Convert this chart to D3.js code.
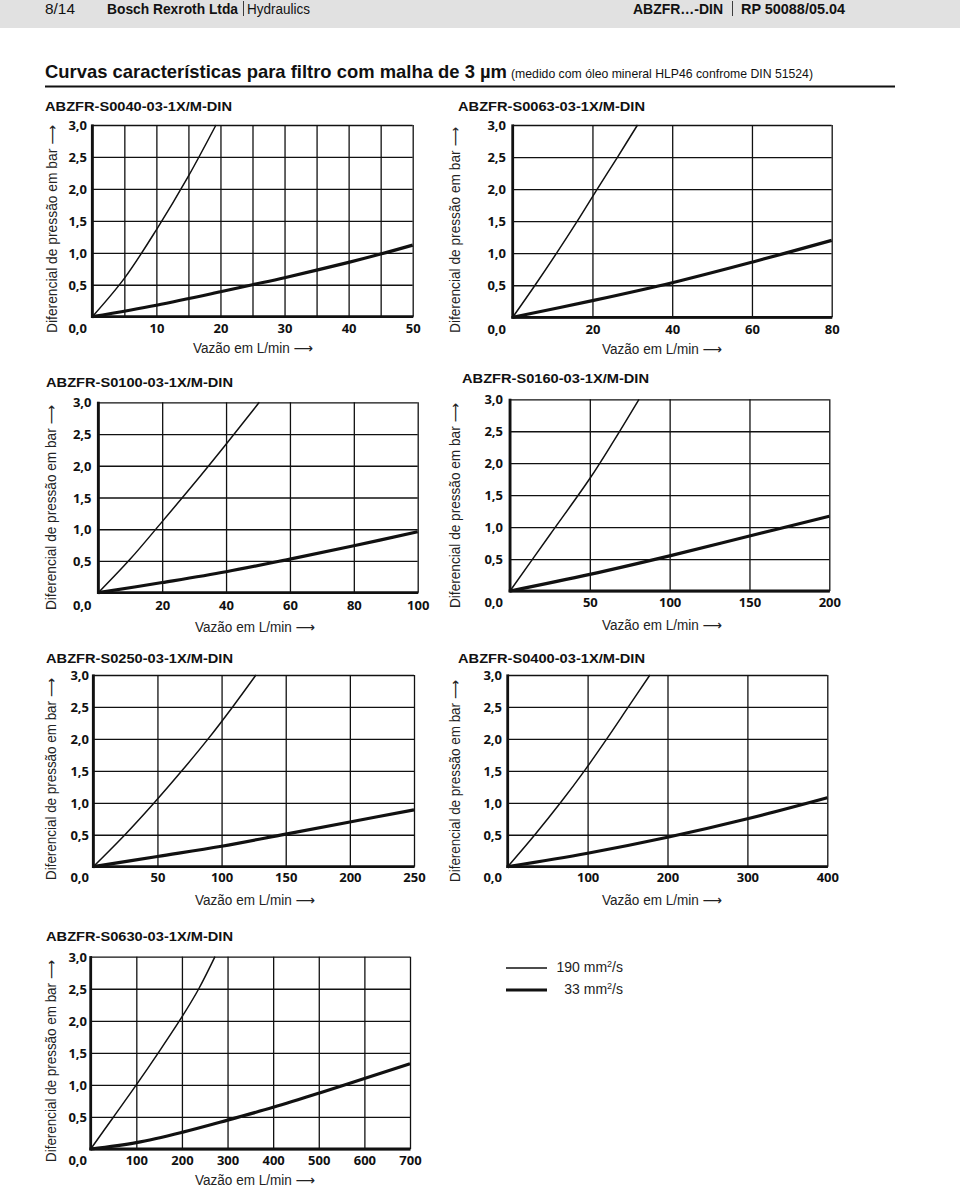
<!DOCTYPE html>
<html><head><meta charset="utf-8">
<script src="https://cdn.jsdelivr.net/npm/d3@7"></script>
<style>
html,body{margin:0;padding:0;background:#fff;}
svg{display:block;}
</style></head>
<body>
<svg id="c" width="960" height="1189"></svg>
<script>
// ---------------- DATA ----------------
const chartTitles = ["ABZFR-S0040-03-1X/M-DIN","ABZFR-S0063-03-1X/M-DIN","ABZFR-S0100-03-1X/M-DIN","ABZFR-S0160-03-1X/M-DIN","ABZFR-S0250-03-1X/M-DIN","ABZFR-S0400-03-1X/M-DIN","ABZFR-S0630-03-1X/M-DIN"];
const flowMax   = [50, 80, 100, 200, 250, 400, 700];
const flowGrid  = [5, 20, 20, 50, 50, 100, 100];
const flowTickLabels = [
  [10,20,30,40,50],
  [20,40,60,80],
  [20,40,60,80,100],
  [50,100,150,200],
  [50,100,150,200,250],
  [100,200,300,400],
  [100,200,300,400,500,600,700]
];
const pressureTicks = [0.5,1.0,1.5,2.0,2.5,3.0];
const pressureTickLabels = ["0,5","1,0","1,5","2,0","2,5","3,0"];
const zeroLabel = "0,0";
const yAxisTitle = "Diferencial de pressão em bar ⟶";
const xAxisTitle = "Vazão em L/min ⟶";
const legendLabels = ["190 mm", "33 mm"];

// 190 mm²/s (thin) curves
const thinFlow_S0040 = [0, 5, 10, 15, 19.3];
const thinDp_S0040   = [0, 0.6, 1.36, 2.2, 3.0];
const thinFlow_S0063 = [0, 5.6, 11, 16.2, 21.2, 26.3, 31.3];
const thinDp_S0063   = [0, 0.5, 1.0, 1.5, 2.0, 2.5, 3.0];
const thinFlow_S0100 = [0, 10, 20, 30, 40, 50.4];
const thinDp_S0100   = [0, 0.53, 1.12, 1.72, 2.34, 3.0];
const thinFlow_S0160 = [0, 25, 50, 65, 80.8];
const thinDp_S0160   = [0, 0.88, 1.76, 2.35, 3.0];
const thinFlow_S0250 = [0, 24.7, 47.5, 69, 89.5, 108.6, 126.8];
const thinDp_S0250   = [0, 0.5, 1.0, 1.5, 2.0, 2.5, 3.0];
const thinFlow_S0400 = [0, 34, 66, 96, 124, 151, 178];
const thinDp_S0400   = [0, 0.5, 1.0, 1.5, 2.0, 2.5, 3.0];
const thinFlow_S0630 = [0, 50, 100, 150, 200, 237, 272.5];
const thinDp_S0630   = [0, 0.5, 1.0, 1.52, 2.06, 2.5, 3.0];

// 33 mm²/s (thick) curves
const thickFlow_S0040 = [0, 10, 20, 25, 30, 40, 45, 50];
const thickDp_S0040   = [0, 0.18, 0.39, 0.5, 0.61, 0.85, 0.98, 1.12];
const thickFlow_S0063 = [0, 20, 40, 60, 80];
const thickDp_S0063   = [0, 0.26, 0.54, 0.86, 1.2];
const thickFlow_S0100 = [0, 20, 40, 60, 80, 100];
const thickDp_S0100   = [0, 0.16, 0.33, 0.53, 0.74, 0.96];
const thickFlow_S0160 = [0, 50, 100, 150, 200];
const thickDp_S0160   = [0, 0.26, 0.55, 0.86, 1.17];
const thickFlow_S0250 = [0, 50, 100, 150, 200, 250];
const thickDp_S0250   = [0, 0.16, 0.32, 0.51, 0.70, 0.89];
const thickFlow_S0400 = [0, 100, 200, 300, 400];
const thickDp_S0400   = [0, 0.21, 0.46, 0.75, 1.08];
const thickFlow_S0630 = [0, 100, 200, 300, 400, 500, 600, 700];
const thickDp_S0630   = [0, 0.10, 0.26, 0.45, 0.65, 0.87, 1.10, 1.33];

const thinSeries  = [[thinFlow_S0040,thinDp_S0040],[thinFlow_S0063,thinDp_S0063],[thinFlow_S0100,thinDp_S0100],[thinFlow_S0160,thinDp_S0160],[thinFlow_S0250,thinDp_S0250],[thinFlow_S0400,thinDp_S0400],[thinFlow_S0630,thinDp_S0630]];
const thickSeries = [[thickFlow_S0040,thickDp_S0040],[thickFlow_S0063,thickDp_S0063],[thickFlow_S0100,thickDp_S0100],[thickFlow_S0160,thickDp_S0160],[thickFlow_S0250,thickDp_S0250],[thickFlow_S0400,thickDp_S0400],[thickFlow_S0630,thickDp_S0630]];

// ---------------- LAYOUT ----------------
const layout = [
  {l:92.3, r:412.7, t:125,   b:316.7, tx:45,  ty:111, ylx:57,  ylt:125, ylb:333,  xlx:193, xly:353, ytr:87,  xty:328},
  {l:512.7,r:831.7, t:125,   b:317.3, tx:458, ty:111, ylx:460, ylt:127, ylb:333,  xlx:602, xly:354, ytr:506, xty:329},
  {l:98.3, r:417.7, t:402.3, b:592.7, tx:46,  ty:387, ylx:56,  ylt:405, ylb:610,  xlx:195, xly:632, ytr:91.5,xty:605},
  {l:510,  r:829.3, t:399.3, b:591,   tx:462, ty:383, ylx:460, ylt:403, ylb:608,  xlx:602, xly:630, ytr:503, xty:602},
  {l:93.3, r:414,   t:675,   b:866.7, tx:46,  ty:663, ylx:56,  ylt:678, ylb:880,  xlx:195, xly:905, ytr:89,  xty:877},
  {l:507.7,r:827.3, t:675,   b:866.7, tx:458, ty:663, ylx:460, ylt:680, ylb:882,  xlx:602, xly:905, ytr:502, xty:877},
  {l:90.7, r:410,   t:956.7, b:1149,  tx:46,  ty:941, ylx:56,  ylt:960, ylb:1162, xlx:195, xly:1185,ytr:87,  xty:1160}
];

const svg = d3.select("#c");
const SANS = "'Liberation Sans', 'DejaVu Sans', Arial, Helvetica, sans-serif";
const TICK = "'Open Sans', 'Noto Sans', sans-serif";
const INK = "#111";

// ---------------- HEADER ----------------
svg.append("rect").attr("x",0).attr("y",0).attr("width",960).attr("height",28).attr("fill","#e1e1e1");
function htext(x, y, s, w, weight, len){
  const t = svg.append("text").attr("x",x).attr("y",y).text(s)
    .attr("font-family",SANS).attr("font-size",w).attr("font-weight",weight).attr("fill",INK);
  if(len) t.attr("textLength",len).attr("lengthAdjust","spacingAndGlyphs");
  return t;
}
htext(45, 13.5, "8/14", 14, 400, 30);
htext(107, 13.5, "Bosch Rexroth Ltda", 14, 700, 131);
svg.append("line").attr("x1",243.5).attr("x2",243.5).attr("y1",1).attr("y2",16).attr("stroke",INK).attr("stroke-width",0.8);
htext(247, 13.5, "Hydraulics", 14, 400, 63);
htext(633, 13.5, "ABZFR…-DIN", 14, 700, 90);
svg.append("line").attr("x1",732.5).attr("x2",732.5).attr("y1",1).attr("y2",16).attr("stroke",INK).attr("stroke-width",0.8);
htext(741, 13.5, "RP 50088/05.04", 14, 700, 104);

// Main title
htext(45, 78, "Curvas características para filtro com malha de 3 µm", 19, 700, 462);
htext(511, 78, "(medido com óleo mineral HLP46 confrome DIN 51524)", 13, 400, 302);
svg.append("line").attr("x1",45).attr("x2",895).attr("y1",86.5).attr("y2",86.5).attr("stroke",INK).attr("stroke-width",2);

// ---------------- CHARTS ----------------
chartTitles.forEach((title, i) => {
  const L = layout[i];
  const x = d3.scaleLinear().domain([0, flowMax[i]]).range([L.l, L.r]);
  const y = d3.scaleLinear().domain([0, 3]).range([L.b, L.t]);
  const g = svg.append("g");

  // chart title
  g.append("text").attr("x",L.tx).attr("y",L.ty).text(title)
    .attr("font-family",SANS).attr("font-size",13.5).attr("font-weight",700).attr("fill",INK)
    .attr("textLength",187).attr("lengthAdjust","spacingAndGlyphs");

  // vertical grid (x axis)
  const xGridVals = d3.range(0, flowMax[i] + 1e-9, flowGrid[i]);
  const labelSet = new Set(flowTickLabels[i]);
  const xAxis = d3.axisBottom(x).tickValues(xGridVals).tickSize(-(L.b - L.t))
    .tickFormat(v => labelSet.has(v) ? String(v) : "");
  const gx = g.append("g").attr("transform",`translate(0,${L.b})`).call(xAxis);
  gx.select(".domain").remove();
  gx.selectAll(".tick line").attr("stroke",INK).attr("stroke-width",1.3);
  gx.selectAll(".tick text").attr("y", L.xty - L.b).attr("dy","0.35em")
    .attr("font-family",TICK).attr("font-size",13).attr("font-weight",700).attr("fill",INK);

  // horizontal grid (y axis)
  const yAxis = d3.axisLeft(y).tickValues([0].concat(pressureTicks)).tickSize(-(L.r - L.l))
    .tickFormat((v) => { const k = pressureTicks.indexOf(v); return k >= 0 ? pressureTickLabels[k] : ""; });
  const gy = g.append("g").attr("transform",`translate(${L.l},0)`).call(yAxis);
  gy.select(".domain").remove();
  gy.selectAll(".tick line").attr("stroke",INK).attr("stroke-width",1.3);
  gy.selectAll(".tick text").attr("x", L.ytr - L.l).attr("dy","0.35em").attr("text-anchor","end")
    .attr("font-family",TICK).attr("font-size",13).attr("font-weight",700).attr("fill",INK);

  // 0,0 label
  g.append("text").attr("x",L.ytr).attr("y",L.xty).attr("dy","0.35em").attr("text-anchor","end")
    .text(zeroLabel).attr("font-family",TICK).attr("font-size",13).attr("font-weight",700).attr("fill",INK);

  // thick left & bottom axes
  g.append("line").attr("x1",x(0)).attr("x2",x(0)).attr("y1",y(3)-0.6).attr("y2",y(0)+1.3)
    .attr("stroke",INK).attr("stroke-width",2.8);
  g.append("line").attr("x1",x(0)-1.3).attr("x2",x(flowMax[i])+0.6).attr("y1",y(0)).attr("y2",y(0))
    .attr("stroke",INK).attr("stroke-width",2.8);

  // curves
  const line = d3.line().x(d => x(d[0])).y(d => y(d[1])).curve(d3.curveCatmullRom.alpha(0.5));
  const thinPts = thinSeries[i][0].map((f, k) => [f, thinSeries[i][1][k]]);
  const thickPts = thickSeries[i][0].map((f, k) => [f, thickSeries[i][1][k]]);
  g.append("path").attr("d", line(thinPts)).attr("fill","none").attr("stroke",INK).attr("stroke-width",1.5);
  g.append("path").attr("d", line(thickPts)).attr("fill","none").attr("stroke",INK).attr("stroke-width",3.2);

  // axis titles
  const ylc = (L.ylt + L.ylb) / 2;
  g.append("text").attr("transform",`translate(${L.ylx},${ylc}) rotate(-90)`).attr("text-anchor","middle")
    .text(yAxisTitle)
    .attr("font-family",SANS).attr("font-size",14).attr("fill","#222")
    .attr("textLength", L.ylb - L.ylt).attr("lengthAdjust","spacingAndGlyphs");
  g.append("text").attr("x",L.xlx).attr("y",L.xly).text(xAxisTitle)
    .attr("font-family",SANS).attr("font-size",14).attr("fill","#222")
    .attr("textLength",120).attr("lengthAdjust","spacingAndGlyphs");
});

// ---------------- LEGEND ----------------
const leg = svg.append("g");
const legendY = [968, 990];
const legendW = [1.5, 3.2];
legendLabels.forEach((lab, k) => {
  leg.append("line").attr("x1",506).attr("x2",547).attr("y1",legendY[k]).attr("y2",legendY[k])
    .attr("stroke",INK).attr("stroke-width",legendW[k]);
  const t = leg.append("text").attr("x",623).attr("y",legendY[k]+3.5).attr("text-anchor","end")
    .attr("font-family",SANS).attr("font-size",14).attr("fill","#222");
  t.append("tspan").text(lab);
  t.append("tspan").text("2").attr("font-size",9).attr("dy",-5);
  t.append("tspan").text("/s").attr("font-size",14).attr("dy",5);
});
</script>
</body></html>
